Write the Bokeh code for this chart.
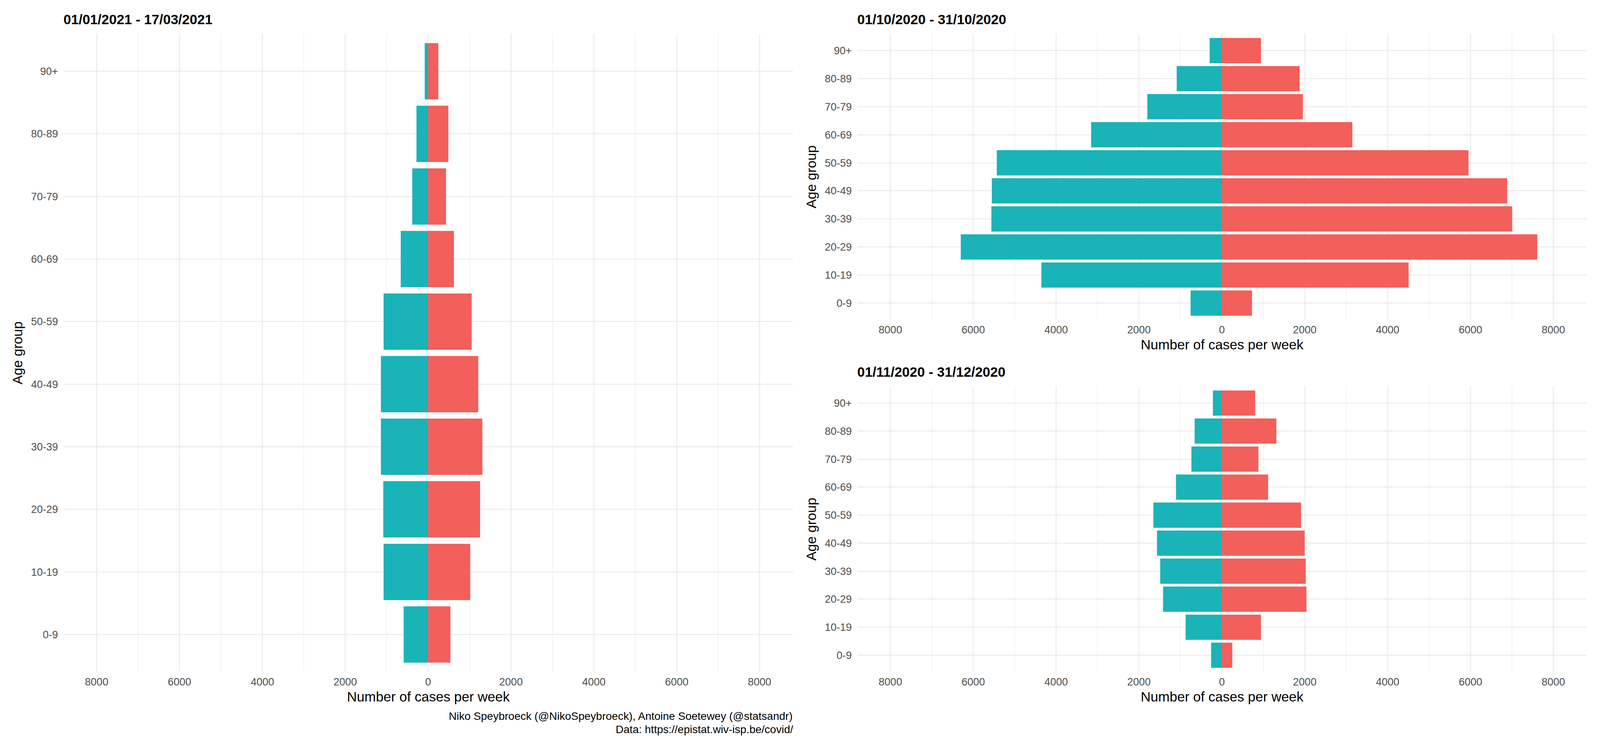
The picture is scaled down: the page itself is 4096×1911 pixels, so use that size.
from bokeh.plotting import figure
from bokeh.layouts import row, column
from bokeh.models import Range1d, FactorRange, FixedTicker
from bokeh.core.properties import value
from bokeh.embed import file_html
from bokeh.resources import INLINE

age_groups = ["0-9", "10-19", "20-29", "30-39", "40-49",
              "50-59", "60-69", "70-79", "80-89", "90+"]

# 01/01/2021 - 17/03/2021 (left side = teal, right side = red)
p1_left = [590, 1074, 1082, 1139, 1139, 1074, 661, 383, 281, 82]
p1_right = [538, 1016, 1254, 1309, 1210, 1052, 623, 432, 489, 246]

# 01/10/2020 - 31/10/2020
p2_left = [754, 4355, 6301, 5563, 5552, 5432, 3155, 1799, 1090, 294]
p2_right = [727, 4507, 7612, 7007, 6886, 5952, 3149, 1955, 1877, 943]

# 01/11/2020 - 31/12/2020
p3_left = [260, 874, 1419, 1488, 1566, 1652, 1107, 735, 657, 216]
p3_right = [251, 943, 2042, 2024, 1998, 1912, 1116, 882, 1315, 804]

titles = ["01/01/2021 - 17/03/2021", "01/10/2020 - 31/10/2020", "01/11/2020 - 31/12/2020"]
major_ticks = [-8000, -6000, -4000, -2000, 0, 2000, 4000, 6000, 8000]
minor_ticks = [-7000, -5000, -3000, -1000, 1000, 3000, 5000, 7000]
tick_labels = {t: str(abs(t)) for t in major_ticks}
caption_lines = ["Niko Speybroeck (@NikoSpeybroeck), Antoine Soetewey (@statsandr)",
                 "Data: https://epistat.wiv-isp.be/covid/"]

TEAL = "#1AB3B7"
RED = "#F35F5B"
GRID = "#EBEBEB"
FONT = "Liberation Sans"
X_START, X_END = -8800, 8810


def make_panel(left_vals, right_vals, width, height, bl, br, bb):
    p = figure(width=width, height=height, output_backend="svg", toolbar_location=None,
               title=None,
               x_range=Range1d(X_START, X_END),
               y_range=FactorRange(factors=age_groups, range_padding=0.1,
                                   range_padding_units="absolute"),
               min_border_left=bl, min_border_right=br,
               min_border_top=0, min_border_bottom=bb)
    p.outline_line_color = None
    p.background_fill_color = "white"
    p.border_fill_color = "white"
    p.hbar(y=age_groups, left=[-v for v in left_vals], right=0, height=0.9,
           fill_color=TEAL, line_color=None)
    p.hbar(y=age_groups, left=0, right=right_vals, height=0.9,
           fill_color=RED, line_color=None)

    xa = p.xaxis[0]
    xa.ticker = FixedTicker(ticks=major_ticks, minor_ticks=minor_ticks)
    xa.major_label_overrides = tick_labels
    xa.axis_label = "Number of cases per week"
    ya = p.yaxis[0]
    ya.axis_label = "Age group"
    for ax in (xa, ya):
        ax.axis_line_color = None
        ax.major_tick_line_color = None
        ax.minor_tick_line_color = None
        ax.major_tick_out = 0
        ax.major_tick_in = 0
        ax.minor_tick_out = 0
        ax.minor_tick_in = 0
        ax.major_label_text_font = FONT
        ax.major_label_text_font_size = "27px"
        ax.major_label_text_color = "#4D4D4D"
        ax.axis_label_text_font = FONT
        ax.axis_label_text_font_size = "35px"
        ax.axis_label_text_font_style = "normal"
        ax.axis_label_text_color = "black"
    xa.major_label_standoff = 15
    xa.axis_label_standoff = 6
    ya.major_label_standoff = 14
    ya.axis_label_standoff = 12

    p.xgrid.grid_line_color = GRID
    p.xgrid.grid_line_width = 2.4
    p.xgrid.minor_grid_line_color = GRID
    p.xgrid.minor_grid_line_width = 1.2
    p.ygrid.grid_line_color = GRID
    p.ygrid.grid_line_width = 2.4
    return p


def text_strip(panel, width, height, bl, br, lines, ys, align, size, style):
    """A text-only strip sharing the panel's horizontal frame (titles / caption)."""
    s = figure(width=width, height=height, output_backend="svg", toolbar_location=None,
               title=None, x_range=panel.x_range, y_range=Range1d(0, height),
               x_axis_type=None, y_axis_type=None,
               min_border_left=bl, min_border_right=br, min_border_top=0, min_border_bottom=0)
    s.outline_line_color = None
    s.xgrid.visible = False
    s.ygrid.visible = False
    xpos = X_START if align == "left" else X_END
    s.text(x=[xpos] * len(lines), y=ys, text=lines, text_align=align,
           text_baseline="middle", text_font=value(FONT), text_font_size=size,
           text_font_style=style, text_color="black")
    return s


FRAME_W = 1868
LEFT_W = 162 + FRAME_W + 18
RIGHT_W = 146 + FRAME_W + 26

p1 = make_panel(p1_left, p1_right, LEFT_W, 1635 + 99, 162, 18, 99)
t1 = text_strip(p1, LEFT_W, 86, 162, 18, [titles[0]], [37], "left", "35px", "bold")
CAP_H = 80
cap = text_strip(p1, LEFT_W, CAP_H, 162, 18, caption_lines,
                 [CAP_H - 14, CAP_H - 48], "right", "28px", "normal")

p2 = make_panel(p2_left, p2_right, RIGHT_W, 733 + 99, 146, 26, 99)
t2 = text_strip(p2, RIGHT_W, 86, 146, 26, [titles[1]], [37], "left", "35px", "bold")
p3 = make_panel(p3_left, p3_right, RIGHT_W, 732 + 179, 146, 26, 179)
t3 = text_strip(p3, RIGHT_W, 71, 146, 26, [titles[2]], [37], "left", "35px", "bold")

layout = row(column(t1, p1, cap), column(t2, p2, t3, p3))
open("out.html", "w").write(file_html(layout, INLINE))
